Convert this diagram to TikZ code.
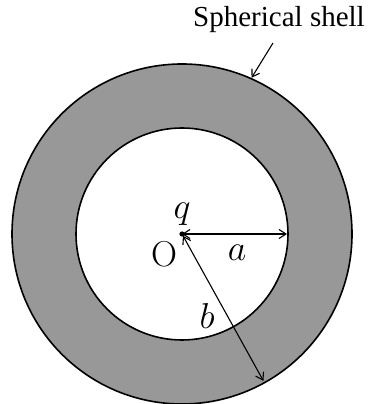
\RequirePackage{fix-cm}
\documentclass[tikz,border=0pt]{standalone}
\usepackage{fontspec}
\usepackage{tikz}
\usetikzlibrary{arrows.meta, calc, positioning}
\newfontfamily\shellfont{Liberation Serif}
\definecolor{shellgray}{RGB}{152, 152, 152}
\tikzset{
  lbl/.style={font=\fontsize{36}{40}\selectfont, inner sep=0pt},
  rad/.style={line width=1.1pt, {Straight Barb[length=7pt,width=9pt]}-{Straight Barb[length=7pt,width=9pt]}},
}

\begin{document}
\begin{tikzpicture}[x=1pt, y=1pt]
\useasboundingbox (0,0) rectangle (369,404);

% centre of the shell and end points of the radii
\coordinate (O) at (182,170);
\coordinate (aend) at ($(O)+(0:105pt)$);
\coordinate (bend) at ($(O)+(-61:168pt)$);
\coordinate (hit) at ($(O)+(66:171pt)$);
\coordinate (tail) at (273,361);

% shell
\fill[shellgray, even odd rule] (O) circle (170pt) (O) circle (106pt);
\draw[black, line width=1.6pt] (O) circle (170pt);
\draw[black, line width=1.6pt] (O) circle (106pt);

% charge
\fill[black] (O) circle (2.6pt);

% radii
\draw[rad] (O) -- (aend);
\draw[rad, shorten <=2pt] (O) -- (bend);

% labels
\node[lbl] (q) at (182,190) {$q$};
\node[lbl] (o) at (164,150) {O};
\node[lbl] (a) at (237,151) {$a$};
\node[lbl] (b) at (207,88) {$b$};
\node[font=\shellfont\fontsize{29}{34}\selectfont, inner sep=0pt] (shell) at (279,384) {Spherical shell};

% pointer to the shell
\draw[line width=1.1pt, -{Straight Barb[length=7pt,width=9pt]}] (tail) -- (hit);

\end{tikzpicture}
\end{document}
